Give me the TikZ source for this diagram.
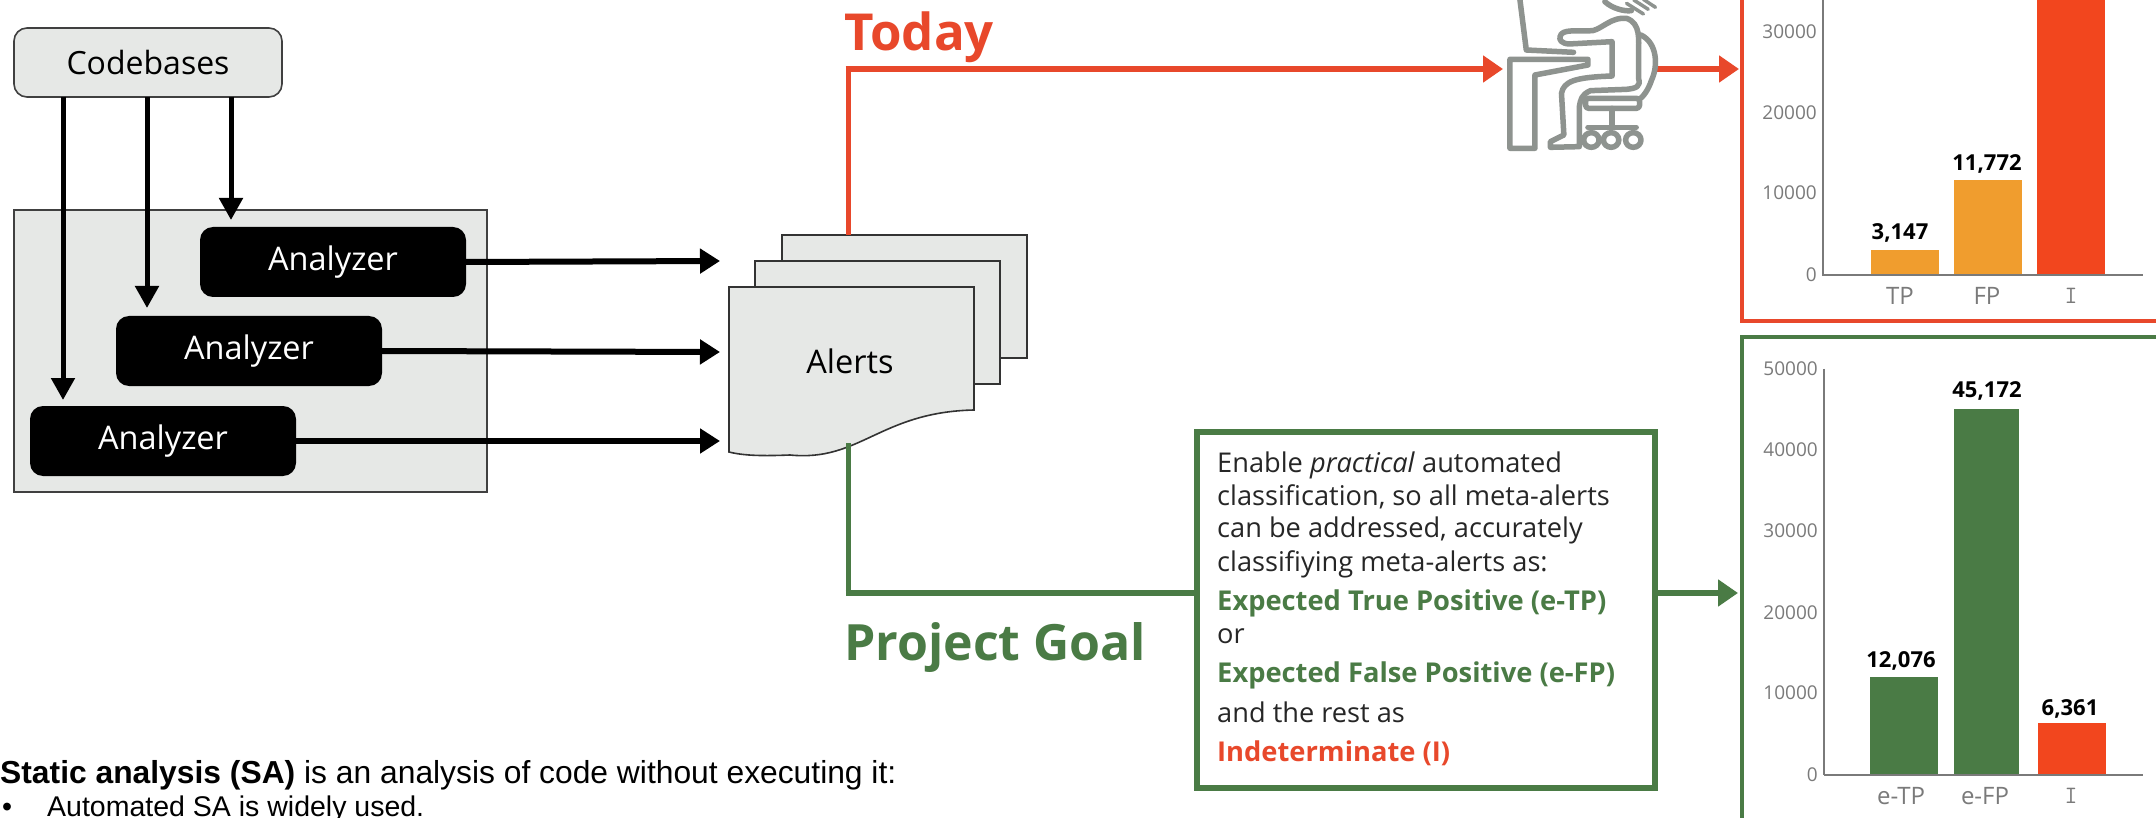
\documentclass[tikz,border=0pt]{standalone}
\usepackage{fontspec}
\setmainfont{Open Sans}
\newfontfamily\arialf{Liberation Sans}
\usetikzlibrary{arrows.meta}
\definecolor{cred}{HTML}{E8482B}
\definecolor{cbar}{HTML}{F2461E}
\definecolor{corange}{HTML}{F09D2E}
\definecolor{cgreen}{HTML}{4A7B45}
\definecolor{cpale}{HTML}{E6E8E6}
\definecolor{cicon}{HTML}{8E938F}
\definecolor{ctick}{HTML}{7A7A7A}
\newcommand{\fs}[1]{\fontsize{#1}{#1}\selectfont}
\tikzset{
  x=1pt,y=-1pt,
  box/.style={anchor=north west,inner sep=0pt,outer sep=0pt},
  palebox/.style={box,draw=black!75,line width=1.6pt,fill=cpale},
  blackbox/.style={box,fill=black,rounded corners=13pt,minimum width=266pt,minimum height=70pt,text=white,font=\fs{32.5}},
  page/.style={box,draw=black!80,line width=1.6pt,fill=cpale,minimum width=245pt,minimum height=123pt},
  downarrow/.style={line width=5pt,-{Triangle[length=22pt,width=23pt]}},
  rightarrow/.style={line width=6pt,-{Triangle[length=20pt,width=24pt]}},
  redarrow/.style={cred,line width=6pt,-{Triangle[length=20pt,width=26pt]}},
  greenarrow/.style={cgreen,line width=6pt,-{Triangle[length=20pt,width=26pt]}},
  ticklabel/.style={anchor=east,inner sep=0pt,text=ctick,font=\fs{19}},
  catlabel/.style={inner sep=0pt,text=ctick,font=\fs{24}},
  vallabel/.style={inner sep=0pt,text=black,font=\fs{22}\bfseries},
  goalline/.style={anchor=base west,inner sep=0pt,text=black!85,font=\fs{27.2}},
  goalbold/.style={anchor=base west,inner sep=0pt,font=\fs{27.3}\bfseries},
  heading/.style={anchor=base west,inner sep=0pt,font=\fs{50}\bfseries},
  bottomtext/.style={anchor=base west,inner sep=0pt,font=\arialf\fs{31.8}},
  bottomtexttwo/.style={anchor=base west,inner sep=0pt,font=\arialf\fs{28.5}},
  axisline/.style={ctick,line width=1.6pt},
  iconline/.style={cicon,line width=5.5pt,line join=round,line cap=round,fill=white},
  iconopen/.style={cicon,line width=5.5pt,line join=round,line cap=round},
}
\begin{document}
\begin{tikzpicture}
\useasboundingbox (0,0) rectangle (2156,818);
\clip (0,0) rectangle (2156,818);
\fill[white] (0,0) rectangle (2156,818);

% grey analyzer panel
\node[palebox,minimum width=473pt,minimum height=282pt] (panel) at (14,210) {};
\node[palebox,rounded corners=13pt,minimum width=268pt,minimum height=69pt,font=\fs{32}] (cb) at (14,28) {Codebases};

\node[blackbox] (an1) at (200,227) {Analyzer};
\node[blackbox] (an2) at (116,316) {Analyzer};
\node[blackbox] (an3) at (30,406) {Analyzer};

\coordinate (d1) at (63,400);
\coordinate (d2) at (147,308);
\coordinate (d3) at (231,220);
\draw[downarrow] (d1 |- cb.south) -- (d1);
\draw[downarrow] (d2 |- cb.south) -- (d2);
\draw[downarrow] (d3 |- cb.south) -- (d3);

\coordinate (r1) at (720,261);
\coordinate (r2) at (720,352);
\coordinate (r3) at (720,441);
\draw[rightarrow] (an1.east) -- (r1);
\draw[rightarrow] (an2.east) -- (r2);
\draw[rightarrow] (an3.east) -- (r3);

% alerts stack
\node[page] (pg3) at (782,235) {};
\node[page] (pg2) at (755,261) {};
\draw[draw=black!80,line width=1.6pt,fill=cpale] (729,287) -- (974,287) -- (974,410)
  .. controls (880,412) and (860,462) .. (790,455)
  .. controls (765,456) and (745,456) .. (729,452) -- cycle;
\node[inner sep=0pt,font=\fs{32.5}] (alerts) at (850,361) {Alerts};

% today
\node[heading,font=\fs{51}\bfseries,text=cred] (today) at (844,51) {Today};
\coordinate (redtop) at (848,235);
\coordinate (redcorner) at (848,69);
\coordinate (persontip) at (1503,69);
\coordinate (persontail) at (1655,69);
\coordinate (charttip) at (1739,69);
\draw[cred,line width=5pt] (redtop) -- (redcorner) -- ++(2,0);
\draw[redarrow] (845.5,69) -- (persontip);
\draw[redarrow] (persontail) -- (charttip);

% person at desk
\begin{scope}[shift={(1400,0)},xscale=0.482,yscale=0.3333]
  \draw[iconopen] (248,-10) -- (262,150) -- (360,157);
  \draw[iconline] (228,178) -- (390,178) -- (390,195) -- (280,225) -- (280,445) -- (228,445) -- cycle;
  \draw[iconline] (500,105) .. controls (535,130) and (535,200) .. (522,240) .. controls (515,270) and (505,290) .. (495,300);
  \draw[iconline] (332,110) .. controls (335,85) and (370,95) .. (400,92) .. controls (420,85) and (440,50) .. (470,55)
     .. controls (500,70) and (495,120) .. (495,160) -- (495,235) .. controls (500,260) and (490,265) .. (470,268) -- (395,272)
     .. controls (375,285) and (375,300) .. (372,320) -- (372,440) -- (312,442) -- (312,425) -- (340,405) -- (335,280)
     .. controls (340,245) and (360,232) .. (440,228) -- (440,125) -- (350,132) .. controls (335,130) and (330,120) .. (332,110) -- cycle;
  \draw[iconline,rounded corners=3pt] (385,295) rectangle (497,325);
  \draw[iconopen] (440,325) -- (440,382);
  \draw[iconopen] (390,382) -- (490,382);
  \draw[iconline] (397,420) ellipse (16 and 22);
  \draw[iconline] (438,420) ellipse (16 and 22);
  \draw[iconline] (484,420) ellipse (16 and 22);
  \draw[iconopen] (425,5) .. controls (440,25) and (465,35) .. (480,32);
  \draw[iconopen,line width=3.5pt] (485,0) -- (515,28);
  \draw[iconopen,line width=3.5pt] (505,-2) -- (530,22);
  \draw[iconopen,line width=3.5pt] (470,10) -- (505,42);
\end{scope}

% red chart
\node[box,draw=cred,line width=4pt,minimum width=440pt,minimum height=341pt] (redbox) at (1742,-20) {};
\fill[corange] (1871,250) rectangle (1939,275);
\fill[corange] (1954,180) rectangle (2022,275);
\fill[cbar] (2037,-5) rectangle (2105,275);
\draw[axisline] (1823,-5) -- (1823,275) -- (2143,275);
\node[ticklabel] (ra) at (1817,32) {30000};
\node[ticklabel] (rb) at (1817,113) {20000};
\node[ticklabel] (rc) at (1817,193) {10000};
\node[ticklabel] (rd) at (1817,275) {0};
\node[vallabel] (rv1) at (1900,233) {3,147};
\node[vallabel] (rv2) at (1987,164) {11,772};
\node[catlabel] (rt1) at (1900,296) {TP};
\node[catlabel] (rt2) at (1987,296) {FP};
\node[catlabel,font=\ttfamily\fs{25}] (rt3) at (2071,296) {I};

% green line and goal box
\node[box,draw=cgreen,line width=6.5pt,fill=white,minimum width=458pt,minimum height=356pt] (goal) at (1197,432) {};
\coordinate (greenstart) at (848,443);
\coordinate (greencorner) at (848,593);
\coordinate (goaltip) at (1738,593);
\draw[cgreen,line width=5pt] (greenstart) -- (greencorner) -- ++(2,0);
\draw[cgreen,line width=6pt] (845.5,593) -- (goal.west |- greencorner);
\draw[greenarrow] (goal.east |- goaltip) -- (goaltip);
\node[heading,text=cgreen] (pg) at (844,660) {Project Goal};

\node[goalline] (g1) at (1217,472) {Enable \textit{practical} automated};
\node[goalline] (g2) at (1217,505) {classification, so all meta-alerts};
\node[goalline] (g3) at (1217,537) {can be addressed, accurately};
\node[goalline] (g4) at (1217,571) {classifiying meta-alerts as:};
\node[goalbold,text=cgreen] (g5) at (1217,610) {Expected True Positive (e-TP)};
\node[goalline] (g6) at (1217,643) {or};
\node[goalbold,text=cgreen] (g7) at (1217,682) {Expected False Positive (e-FP)};
\node[goalline] (g8) at (1217,722) {and the rest as};
\node[goalbold,text=cred] (g9) at (1217,761) {Indeterminate (I)};

% green chart
\node[box,draw=cgreen,line width=4pt,minimum width=440pt,minimum height=520pt] (greenbox) at (1742,337) {};
\fill[cgreen] (1870,677) rectangle (1938,775);
\fill[cgreen] (1954,409) rectangle (2019,775);
\fill[cbar] (2038,723) rectangle (2106,775);
\draw[axisline] (1824,369) -- (1824,775);
\draw[ctick,line width=2.6pt] (1824,775) -- (2143,775);
\node[ticklabel] (ga) at (1818,369) {50000};
\node[ticklabel] (gb) at (1818,450) {40000};
\node[ticklabel] (gc) at (1818,531) {30000};
\node[ticklabel] (gd) at (1818,613) {20000};
\node[ticklabel] (ge) at (1818,693) {10000};
\node[ticklabel] (gf) at (1818,775) {0};
\node[vallabel] (gv1) at (1901,661) {12,076};
\node[vallabel] (gv2) at (1987,391) {45,172};
\node[vallabel] (gv3) at (2070,709) {6,361};
\node[catlabel] (gt1) at (1901,796) {e-TP};
\node[catlabel] (gt2) at (1985,796) {e-FP};
\node[catlabel,font=\ttfamily\fs{25}] (gt3) at (2071,796) {I};

% bottom text
\node[bottomtext] (st) at (0,783) {\textbf{Static analysis (SA)} is an analysis of code without executing it:};
\node[bottomtexttwo] (bu) at (2,816) {•};
\node[bottomtexttwo] (st2) at (47,816) {Automated SA is widely used.};
\end{tikzpicture}
\end{document}
